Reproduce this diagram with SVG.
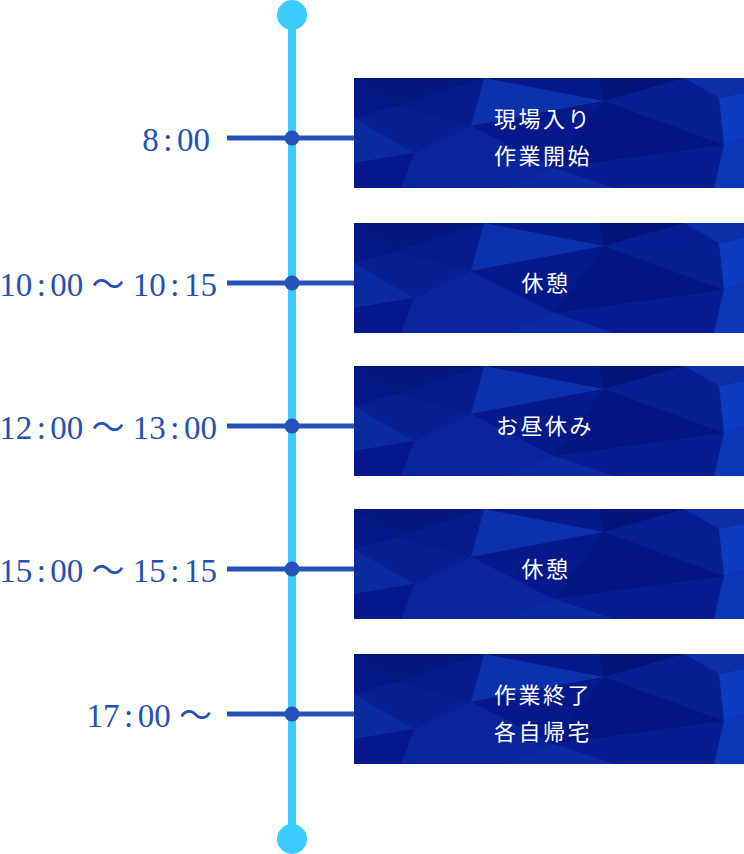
<svg xmlns="http://www.w3.org/2000/svg" xmlns:xlink="http://www.w3.org/1999/xlink" width="744" height="854" viewBox="0 0 744 854">
<style>
.time{font-family:"Liberation Serif","Noto Sans CJK JP",serif;font-size:33px;fill:#2451b5;text-anchor:end}
.lbl{font-family:"Noto Sans CJK JP","Noto Sans",sans-serif;font-size:22px;fill:#ffffff;text-anchor:middle;letter-spacing:2.5px}
.tick{stroke:#2452b8;stroke-width:5}
.dot{fill:#2452b8}
.axis{stroke:#3ccbff;stroke-width:8}
.end{fill:#3ccbff}
</style>
<defs>
<g id="poly">
<rect x="0" y="0" width="390" height="110" fill="#071f93"/>
<polygon points="0,0 130,0 43,28" fill="#03177f"/>
<polygon points="130,0 117,48 43,28" fill="#051c8a"/>
<polygon points="130,0 245,0 250,23" fill="#041a88"/>
<polygon points="130,0 250,23 117,48" fill="#0b31ad"/>
<polygon points="245,0 330,0 250,23" fill="#02137a"/>
<polygon points="330,0 365,20 250,23" fill="#061f90"/>
<polygon points="330,0 390,0 390,15 365,20" fill="#0a2fa6"/>
<polygon points="0,0 43,28 0,40" fill="#041988"/>
<polygon points="0,40 43,28 117,48 60,75" fill="#07208f"/>
<polygon points="0,40 60,75 0,85" fill="#0a2a9f"/>
<polygon points="117,48 250,23 200,90" fill="#041a8a"/>
<polygon points="250,23 370,67 200,90" fill="#021580"/>
<polygon points="250,23 365,20 370,67" fill="#05208f"/>
<polygon points="365,20 390,15 390,60 370,67" fill="#0d3cc0"/>
<polygon points="0,85 60,75 47,110 0,110" fill="#03188a"/>
<polygon points="60,75 117,48 200,90 150,110 47,110" fill="#08259a"/>
<polygon points="200,90 370,67 360,110 260,110" fill="#051d8e"/>
<polygon points="200,90 260,110 150,110" fill="#0a2aa0"/>
<polygon points="370,67 390,60 390,110 360,110" fill="#0c38b8"/>
</g>
</defs>
<g id="timeline">
<line class="axis" x1="292" y1="15" x2="292" y2="839"/>
<circle class="end" cx="292" cy="15" r="15"/>
<circle class="end" cx="292" cy="839" r="15"/>
</g>
<g id="connectors">
<line class="tick" x1="227" y1="138" x2="357" y2="138"/>
<line class="tick" x1="227" y1="283" x2="357" y2="283"/>
<line class="tick" x1="227" y1="426" x2="357" y2="426"/>
<line class="tick" x1="227" y1="569" x2="357" y2="569"/>
<line class="tick" x1="227" y1="714" x2="357" y2="714"/>
<circle class="dot" cx="292" cy="138" r="7.5"/>
<circle class="dot" cx="292" cy="283" r="7.5"/>
<circle class="dot" cx="292" cy="426" r="7.5"/>
<circle class="dot" cx="292" cy="569" r="7.5"/>
<circle class="dot" cx="292" cy="714" r="7.5"/>
</g>
<g id="step1">
<text class="time" x="210" y="151">8<tspan dx="4.5">:</tspan><tspan dx="4.5">00</tspan></text>
<use xlink:href="#poly" href="#poly" x="354" y="78"/>
<text class="lbl" x="543" y="127">現場入り</text>
<text class="lbl" x="543" y="164">作業開始</text>
</g>
<g id="step2">
<text class="time" x="217" y="296">10<tspan dx="4.5">:</tspan><tspan dx="4.5">00 ～ 10</tspan><tspan dx="4.5">:</tspan><tspan dx="4.5">15</tspan></text>
<use xlink:href="#poly" href="#poly" x="354" y="223"/>
<text class="lbl" x="546" y="291">休憩</text>
</g>
<g id="step3">
<text class="time" x="217" y="439">12<tspan dx="4.5">:</tspan><tspan dx="4.5">00 ～ 13</tspan><tspan dx="4.5">:</tspan><tspan dx="4.5">00</tspan></text>
<use xlink:href="#poly" href="#poly" x="354" y="366"/>
<text class="lbl" x="545" y="434">お昼休み</text>
</g>
<g id="step4">
<text class="time" x="217" y="582">15<tspan dx="4.5">:</tspan><tspan dx="4.5">00 ～ 15</tspan><tspan dx="4.5">:</tspan><tspan dx="4.5">15</tspan></text>
<use xlink:href="#poly" href="#poly" x="354" y="509"/>
<text class="lbl" x="546" y="577">休憩</text>
</g>
<g id="step5">
<text class="time" x="212" y="727">17<tspan dx="4.5">:</tspan><tspan dx="4.5">00 ～</tspan></text>
<use xlink:href="#poly" href="#poly" x="354" y="654"/>
<text class="lbl" x="543" y="703">作業終了</text>
<text class="lbl" x="543" y="740">各自帰宅</text>
</g>
</svg>
